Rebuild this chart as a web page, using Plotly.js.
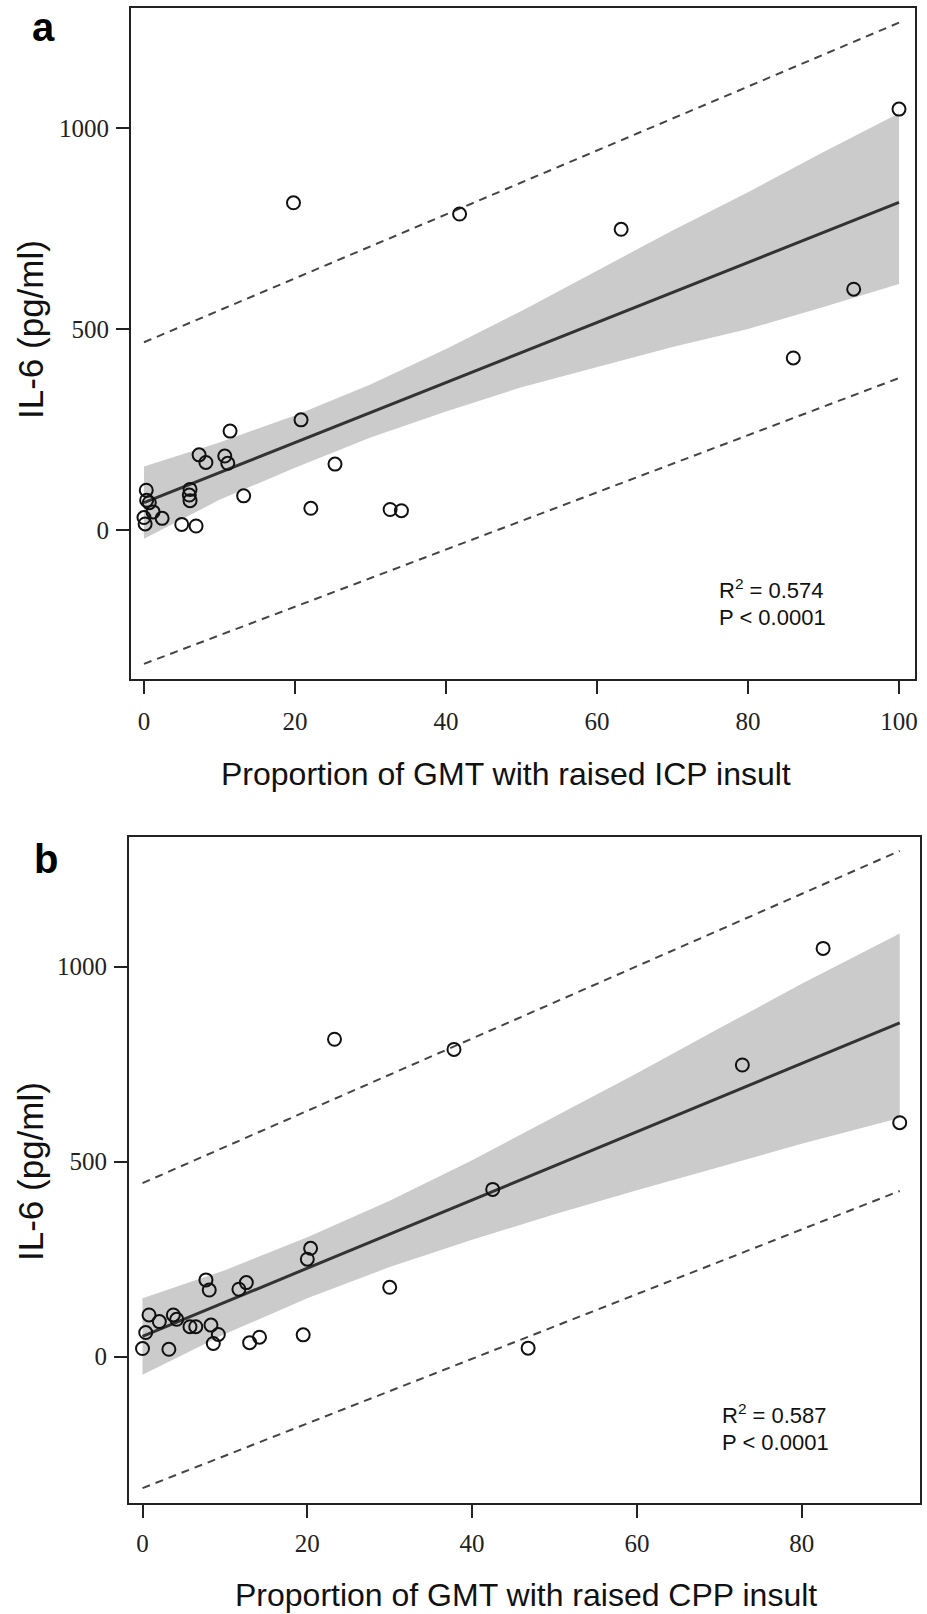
<!DOCTYPE html>
<html>
<head>
<meta charset="utf-8">
<script src="https://cdn.plot.ly/plotly-3.0.1.min.js"></script>
<style>
html,body{margin:0;padding:0;background:#fff;}
#chart{width:927px;height:1614px;}
</style>
</head>
<body>
<div id="chart"></div>
<script>
// ---------- Panel a : raised ICP insult ----------
const aX = [19.8, 41.8, 63.2, 100.0, 94.0, 86.0, 0.3, 0.35, 0.7, 1.2, 0.0, 0.15, 2.4, 5.0, 6.9, 6.1, 6.0, 6.1, 7.3, 8.2, 11.4, 10.7, 11.1, 13.2, 20.8, 25.3, 22.1, 32.6, 34.1];
const aY = [814, 786, 748, 1047, 599, 428, 99, 74, 68, 45, 31, 15, 29, 14, 10, 101, 87, 73, 187, 168, 246, 184, 166, 85, 274, 164, 54, 51, 48];
const aFitX = [0, 100];
const aFitY = [68, 815];
const aBandX = [0, 10, 20, 30, 40, 50, 60, 70, 80, 90, 100];
const aBandUpper = [158, 218, 285, 362, 450, 545, 645, 745, 840, 940, 1037];
const aBandLower = [-22, 75, 155, 230, 295, 355, 405, 455, 500, 555, 612];
const aPredX = [0, 100];
const aPredUpper = [467, 1262];
const aPredLower = [-333, 378];
const aXTicks = [0, 20, 40, 60, 80, 100];

// ---------- Panel b : raised CPP insult ----------
const bX = [23.3, 37.8, 82.6, 72.8, 91.9, 42.5, 46.8, 30.0, 20.4, 20.0, 7.7, 8.1, 12.6, 11.7, 0.79, 2.04, 3.74, 4.15, 5.76, 6.46, 8.31, 9.2, 8.59, 0.39, 0.0, 3.2, 13.0, 14.2, 19.5];
const bY = [814, 788, 1047, 748, 600, 429, 22, 178, 278, 250, 197, 171, 190, 173, 107, 90, 107, 96, 77, 77, 81, 57, 34, 62, 21, 19, 36, 50, 56];
const bFitX = [0, 91.9];
const bFitY = [52, 856];
const bBandX = [0, 10, 20, 30, 40, 50, 60, 70, 80, 91.9];
const bBandUpper = [150, 222, 306, 400, 504, 615, 727, 842, 956, 1085];
const bBandLower = [-46, 58, 150, 230, 300, 365, 427, 486, 546, 612];
const bPredX = [0, 91.9];
const bPredUpper = [445, 1297];
const bPredLower = [-337, 425];
const bXTicks = [0, 20, 40, 60, 80];

const yTicks = [0, 500, 1000];

const W = 927, H = 1614;
const px = v => v / W;
const py = v => 1 - v / H;

function bandTrace(xs, up, lo, xa, ya) {
  return {
    x: xs.concat(xs.slice().reverse()),
    y: up.concat(lo.slice().reverse()),
    type: 'scatter', mode: 'lines', fill: 'toself',
    fillcolor: '#cbcbcb', line: {width: 0, color: 'rgba(0,0,0,0)'},
    xaxis: xa, yaxis: ya, hoverinfo: 'skip', showlegend: false
  };
}
function dashTrace(xs, ys, xa, ya) {
  return {x: xs, y: ys, type: 'scatter', mode: 'lines',
    line: {color: '#444', width: 2, dash: '8px,6px'},
    xaxis: xa, yaxis: ya, showlegend: false};
}
function fitTrace(xs, ys, xa, ya) {
  return {x: xs, y: ys, type: 'scatter', mode: 'lines',
    line: {color: '#333', width: 3}, xaxis: xa, yaxis: ya, showlegend: false};
}
function ptsTrace(xs, ys, xa, ya) {
  return {x: xs, y: ys, type: 'scatter', mode: 'markers',
    marker: {symbol: 'circle-open', size: 13, color: '#111', line: {width: 2, color: '#111'}},
    xaxis: xa, yaxis: ya, showlegend: false, cliponaxis: false};
}

const data = [
  bandTrace(aBandX, aBandUpper, aBandLower, 'x', 'y'),
  dashTrace(aPredX, aPredUpper, 'x', 'y'),
  dashTrace(aPredX, aPredLower, 'x', 'y'),
  fitTrace(aFitX, aFitY, 'x', 'y'),
  ptsTrace(aX, aY, 'x', 'y'),
  bandTrace(bBandX, bBandUpper, bBandLower, 'x2', 'y2'),
  dashTrace(bPredX, bPredUpper, 'x2', 'y2'),
  dashTrace(bPredX, bPredLower, 'x2', 'y2'),
  fitTrace(bFitX, bFitY, 'x2', 'y2'),
  ptsTrace(bX, bY, 'x2', 'y2')
];

const tickFont = {family: 'Liberation Serif, Times New Roman, serif', size: 25, color: '#222'};
function axisBase() {
  return {
    showline: true, mirror: true, linecolor: '#222', linewidth: 2,
    ticks: 'outside', ticklen: 13, tickwidth: 2, tickcolor: '#222',
    showgrid: false, zeroline: false, tickfont: tickFont, fixedrange: true
  };
}

const sans = 'Liberation Sans, Arial, sans-serif';
function ann(text, x, y, size, extra) {
  return Object.assign({text: text, x: px(x), y: py(y), xref: 'paper', yref: 'paper',
    xanchor: 'center', yanchor: 'middle', showarrow: false,
    font: {family: sans, size: size, color: '#111'}}, extra || {});
}

const layout = {
  width: W, height: H,
  margin: {l: 0, r: 0, t: 0, b: 0},
  paper_bgcolor: '#fff', plot_bgcolor: '#fff',
  showlegend: false,
  xaxis: Object.assign(axisBase(), {domain: [px(131), px(915)], range: [-1.72, 102.12], tickvals: aXTicks, anchor: 'y', ticklabelstandoff: 6}),
  yaxis: Object.assign(axisBase(), {domain: [py(679), py(8)], range: [-370.6, 1298.5], tickvals: yTicks, anchor: 'x', ticklabelstandoff: 2}),
  xaxis2: Object.assign(axisBase(), {domain: [px(129), px(920)], range: [-1.64, 94.36], tickvals: bXTicks, anchor: 'y2', ticklabelstandoff: 4}),
  yaxis2: Object.assign(axisBase(), {domain: [py(1503), py(837)], range: [-375.1, 1332.6], tickvals: yTicks, anchor: 'x2', ticklabelstandoff: 2}),
  annotations: [
    ann('<b>a</b>', 43, 27, 40, {font: {family: sans, size: 40, color: '#000'}}),
    ann('<b>b</b>', 46, 859, 40, {font: {family: sans, size: 40, color: '#000'}}),
    ann('IL-6 (pg/ml)', 30, 330, 35, {textangle: -90}),
    ann('IL-6 (pg/ml)', 30, 1172, 35, {textangle: -90}),
    ann('Proportion of GMT with raised ICP insult', 506, 774, 32),
    ann('Proportion of GMT with raised CPP insult', 526, 1595, 32),
    ann('R<sup>2</sup> = 0.574', 717, 589, 22, {xanchor: 'left'}),
    ann('P < 0.0001', 717, 617, 22, {xanchor: 'left'}),
    ann('R<sup>2</sup> = 0.587', 720, 1414, 22, {xanchor: 'left'}),
    ann('P < 0.0001', 720, 1442, 22, {xanchor: 'left'})
  ]
};

Plotly.newPlot('chart', data, layout, {displayModeBar: false, staticPlot: true});
</script>
</body>
</html>
